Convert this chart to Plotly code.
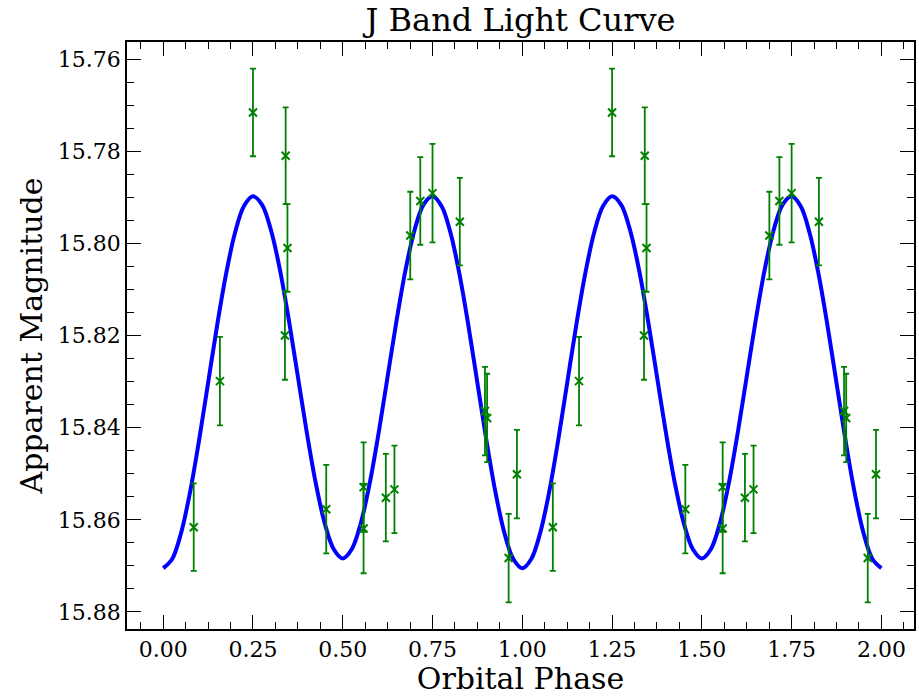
import plotly.graph_objects as go

# Observed J-band points (one orbital cycle; repeated at phase + 1)
obs_phase = [0.085, 0.158, 0.250, 0.339, 0.341, 0.346, 0.454, 0.558, 0.558,
             0.620, 0.644, 0.688, 0.716, 0.750, 0.826, 0.896, 0.902, 0.962, 0.985]
obs_mag = [15.8616, 15.8299, 15.7716, 15.8200, 15.7810, 15.8010, 15.8577, 15.8529, 15.8619,
           15.8552, 15.8534, 15.7983, 15.7908, 15.7891, 15.7953, 15.8364, 15.8379, 15.8683, 15.8501]
obs_err = [0.0095, 0.0096, 0.0095, 0.0096, 0.0105, 0.0095, 0.0096, 0.0097, 0.0097,
           0.0095, 0.0095, 0.0095, 0.0095, 0.0107, 0.0095, 0.0096, 0.0096, 0.0096, 0.0096]

# Model light curve (one cycle, phase 0..1)
model_phase = [i * 0.025 for i in range(41)]
model_mag = [15.8705, 15.8685, 15.8628, 15.8539, 15.8427, 15.8303, 15.8179, 15.8067, 15.7977, 15.7919,
             15.7898, 15.7916, 15.7971, 15.8057, 15.8167, 15.8289, 15.8411, 15.8521, 15.8608, 15.8664,
             15.8684, 15.8664, 15.8608, 15.8521, 15.8411, 15.8289, 15.8167, 15.8057, 15.7971, 15.7916,
             15.7898, 15.7919, 15.7977, 15.8067, 15.8179, 15.8303, 15.8427, 15.8539, 15.8628, 15.8685,
             15.8705]

n_cycles = 2
curve_x, curve_y = [], []
for c in range(n_cycles):
    start = 0 if c == 0 else 1
    curve_x += [p + c for p in model_phase[start:]]
    curve_y += model_mag[start:]

pts_x, pts_y, pts_e = [], [], []
for c in range(n_cycles):
    pts_x += [p + c for p in obs_phase]
    pts_y += obs_mag
    pts_e += obs_err

FONT = "DejaVu Serif"

fig = go.Figure()
fig.add_trace(go.Scatter(
    x=curve_x, y=curve_y, mode="lines",
    line=dict(color="#0000ff", width=4, shape="spline", smoothing=1.0),
    showlegend=False, hoverinfo="skip"))
fig.add_trace(go.Scatter(
    x=pts_x, y=pts_y, mode="markers",
    marker=dict(symbol="x-thin", size=8, color="#008000",
                line=dict(color="#008000", width=2)),
    error_y=dict(type="data", array=pts_e, visible=True, color="#008000",
                 thickness=1.8, width=3),
    showlegend=False))

axis_common = dict(
    showline=True, linecolor="black", linewidth=1.6, mirror="allticks",
    ticks="inside", tickcolor="black", tickwidth=1.4, ticklen=14,
    showgrid=False, zeroline=False,
    tickfont=dict(family=FONT, size=22, color="black"),
)

fig.update_layout(
    width=919, height=696,
    margin=dict(l=127, r=3, t=42, b=66),
    paper_bgcolor="white", plot_bgcolor="white",
    font=dict(family=FONT, color="black"),
    title=dict(text="J Band Light Curve", x=0.5, xref="paper", xanchor="center",
               y=1 - 20 / 696, yref="container", yanchor="middle",
               font=dict(family=FONT, size=32, color="black")),
    xaxis=dict(
        range=[-0.1008, 2.0908], tick0=0, dtick=0.25, tickformat=".2f",
        minor=dict(ticks="inside", dtick=0.0625, tick0=0, ticklen=7,
                   tickcolor="black", tickwidth=1.2),
        title=dict(text="Orbital Phase", font=dict(family=FONT, size=30, color="black"),
                   standoff=10),
        **axis_common),
    yaxis=dict(
        range=[15.8837, 15.7563], tick0=15.76, dtick=0.02, tickformat=".2f",
        minor=dict(ticks="inside", dtick=0.005, tick0=15.76, ticklen=7,
                   tickcolor="black", tickwidth=1.2),
        title=dict(text="Apparent Magnitude", font=dict(family=FONT, size=30, color="black"),
                   standoff=6),
        **axis_common),
)

fig.write_html("out.html")
